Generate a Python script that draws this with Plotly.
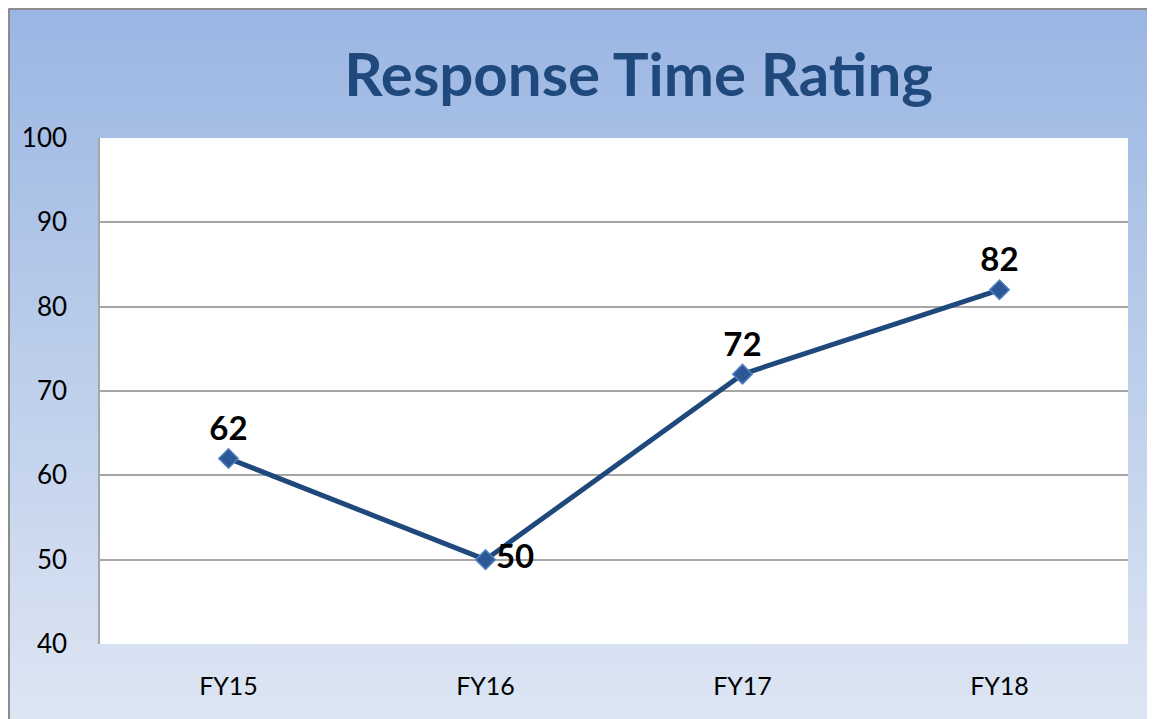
import base64
import plotly.graph_objects as go

years = ["FY15", "FY16", "FY17", "FY18"]
ratings = [62, 50, 72, 82]
label_pos = ["top center", "middle right", "top center", "top center"]
y_ticks = [40, 50, 60, 70, 80, 90, 100]

# soft blue gradient behind everything, like the Office chart area fill
svg = ('<svg xmlns="http://www.w3.org/2000/svg" width="100" height="100" preserveAspectRatio="none">'
       '<defs><linearGradient id="g" x1="0" y1="0" x2="0" y2="1">'
       '<stop offset="0" stop-color="#9AB6E3"/><stop offset="1" stop-color="#DEE6F3"/>'
       '</linearGradient></defs><rect width="100" height="100" fill="url(#g)"/></svg>')
bg_src = "data:image/svg+xml;base64," + base64.b64encode(svg.encode()).decode()

W, H = 1155, 719
L, R, T, B = 92, 35, 130, 83
pw, ph = W - L - R, H - T - B

fig = go.Figure()
fig.add_trace(go.Scatter(
    x=years, y=ratings,
    mode="lines+markers+text",
    line=dict(color="#1F497D", width=5),
    marker=dict(symbol="diamond", size=15, color="#2B5797",
                line=dict(color="#4F81BD", width=1.5)),
    text=[str(v) for v in ratings],
    textposition=label_pos,
    textfont=dict(family="Lato", size=33, color="black", weight="bold"),
    cliponaxis=False,
    showlegend=False,
))

fig.update_layout(
    width=W, height=H,
    margin=dict(l=L, r=R, t=T, b=B),
    paper_bgcolor="#BFD0EC",
    plot_bgcolor="white",
    font=dict(family="Lato", color="black"),
    title=dict(text="Response Time Rating", x=0.546, xanchor="center",
               y=1 - 67 / H, yanchor="middle",
               font=dict(family="Lato", size=60, color="#1F497D", weight="bold")),
    images=[dict(source=bg_src, xref="paper", yref="paper", x=-L / pw, y=1 + T / ph,
                 sizex=W / pw, sizey=H / ph, sizing="stretch", layer="below",
                 xanchor="left", yanchor="top")],
    shapes=[
        # white plot area over the gradient
        dict(type="rect", xref="paper", yref="paper", x0=0, x1=1, y0=0, y1=1,
             fillcolor="white", line=dict(width=0), layer="below"),
        dict(type="line", xref="paper", yref="paper", x0=-(L - 1) / pw, x1=1 + R / pw,
             y0=1 + (T - 1) / ph, y1=1 + (T - 1) / ph, line=dict(color="#8C8C8C", width=2)),
        dict(type="line", xref="paper", yref="paper", x0=-(L - 1) / pw, x1=-(L - 1) / pw,
             y0=1 + (T - 1) / ph, y1=-B / ph, line=dict(color="#8C8C8C", width=2)),
    ],
)

fig.update_xaxes(range=[-0.5, 3.5], showgrid=False, ticks="", showline=False,
                 tickfont=dict(size=25), ticklabelstandoff=25)
fig.update_yaxes(range=[40, 100], tickvals=y_ticks, showgrid=True,
                 gridcolor="#A6A6A6", gridwidth=1.5, zeroline=False,
                 showline=True, linecolor="#A6A6A6", linewidth=1.5,
                 tickfont=dict(size=26), ticks="", ticklabelstandoff=26)

fig.write_html("out.html")
